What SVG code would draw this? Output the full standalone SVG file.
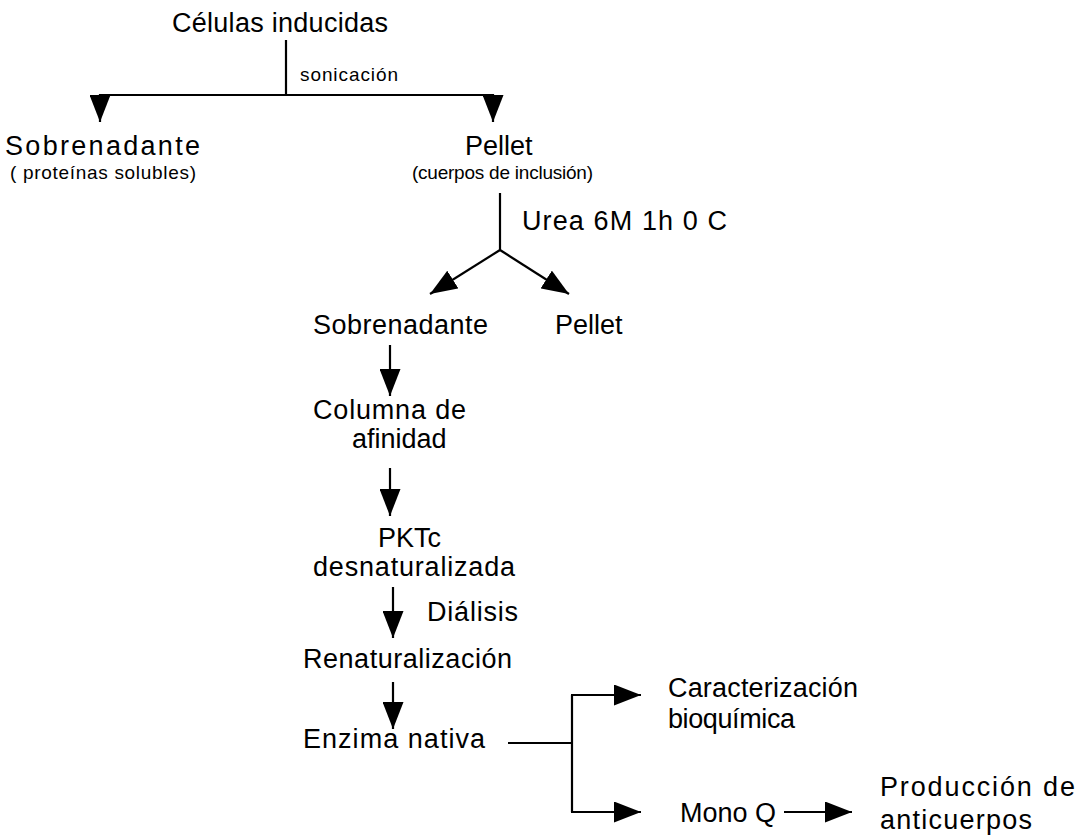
<svg xmlns="http://www.w3.org/2000/svg" width="1081" height="835" viewBox="0 0 1081 835">
<defs>
<style>
text{font-family:"Liberation Sans",Arial,sans-serif;fill:#000}
.l{font-size:27px}
.s{font-size:19px}
.c{stroke:#000;stroke-width:2.2;fill:none}
</style>
<marker id="ah" markerUnits="userSpaceOnUse" markerWidth="27" markerHeight="21" refX="27" refY="10.5" orient="auto" viewBox="0 0 27 21">
<path d="M0,0 L27,10.5 L0,21 Z" fill="#000"/>
</marker>
</defs>
<rect width="1081" height="835" fill="#fff"/>
<g id="connectors">
<path class="c" d="M286,40 V95 M99,95 H494"/>
<path class="c" d="M100,94 V122" marker-end="url(#ah)"/>
<path class="c" d="M493,94 V122" marker-end="url(#ah)"/>
<path class="c" d="M500,193 V250"/>
<path class="c" d="M500,250 L430,294" marker-end="url(#ah)"/>
<path class="c" d="M500,250 L569,294" marker-end="url(#ah)"/>
<path class="c" d="M390,345 V396" marker-end="url(#ah)"/>
<path class="c" d="M390,468 V516" marker-end="url(#ah)"/>
<path class="c" d="M393,587 V638" marker-end="url(#ah)"/>
<path class="c" d="M393,682 V729" marker-end="url(#ah)"/>
<path class="c" d="M508,743 H571 M572,695 V812"/>
<path class="c" d="M571,695 H641" marker-end="url(#ah)"/>
<path class="c" d="M571,812 H641" marker-end="url(#ah)"/>
<path class="c" d="M784,812 H852" marker-end="url(#ah)"/>
</g>
<g id="celulas"><text class="l" x="172" y="32" textLength="216">Células inducidas</text></g>
<g id="sonicacion"><text class="s" x="300" y="81" textLength="98" font-size="18">sonicación</text></g>
<g id="sobrenadante1"><text class="l" x="5" y="155" textLength="195">Sobrenadante</text><text class="s" x="10" y="179" textLength="186">( proteínas solubles)</text></g>
<g id="pellet1"><text class="l" x="465" y="155">Pellet</text><text class="s" x="412" y="179" textLength="181">(cuerpos de inclusión)</text></g>
<g id="urea"><text class="l" x="522" y="230" textLength="205">Urea 6M 1h 0 C</text></g>
<g id="sobrenadante2"><text class="l" x="313" y="334" textLength="175">Sobrenadante</text></g>
<g id="pellet2"><text class="l" x="555" y="334">Pellet</text></g>
<g id="columna"><text class="l" x="313" y="419" textLength="153">Columna de</text><text class="l" x="352" y="448">afinidad</text></g>
<g id="pktc"><text class="l" x="378" y="547">PKTc</text><text class="l" x="313" y="576" textLength="202">desnaturalizada</text></g>
<g id="dialisis"><text class="l" x="427" y="621" textLength="91">Diálisis</text></g>
<g id="renat"><text class="l" x="303" y="668" textLength="209">Renaturalización</text></g>
<g id="enzima"><text class="l" x="303" y="748" textLength="182">Enzima nativa</text></g>
<g id="caract"><text class="l" x="668" y="697" textLength="190">Caracterización</text><text class="l" x="668" y="728" textLength="127">bioquímica</text></g>
<g id="monoq"><text class="l" x="680" y="822">Mono Q</text></g>
<g id="produccion"><text class="l" x="880" y="796" textLength="195">Producción de</text><text class="l" x="880" y="829" textLength="152">anticuerpos</text></g>
</svg>
